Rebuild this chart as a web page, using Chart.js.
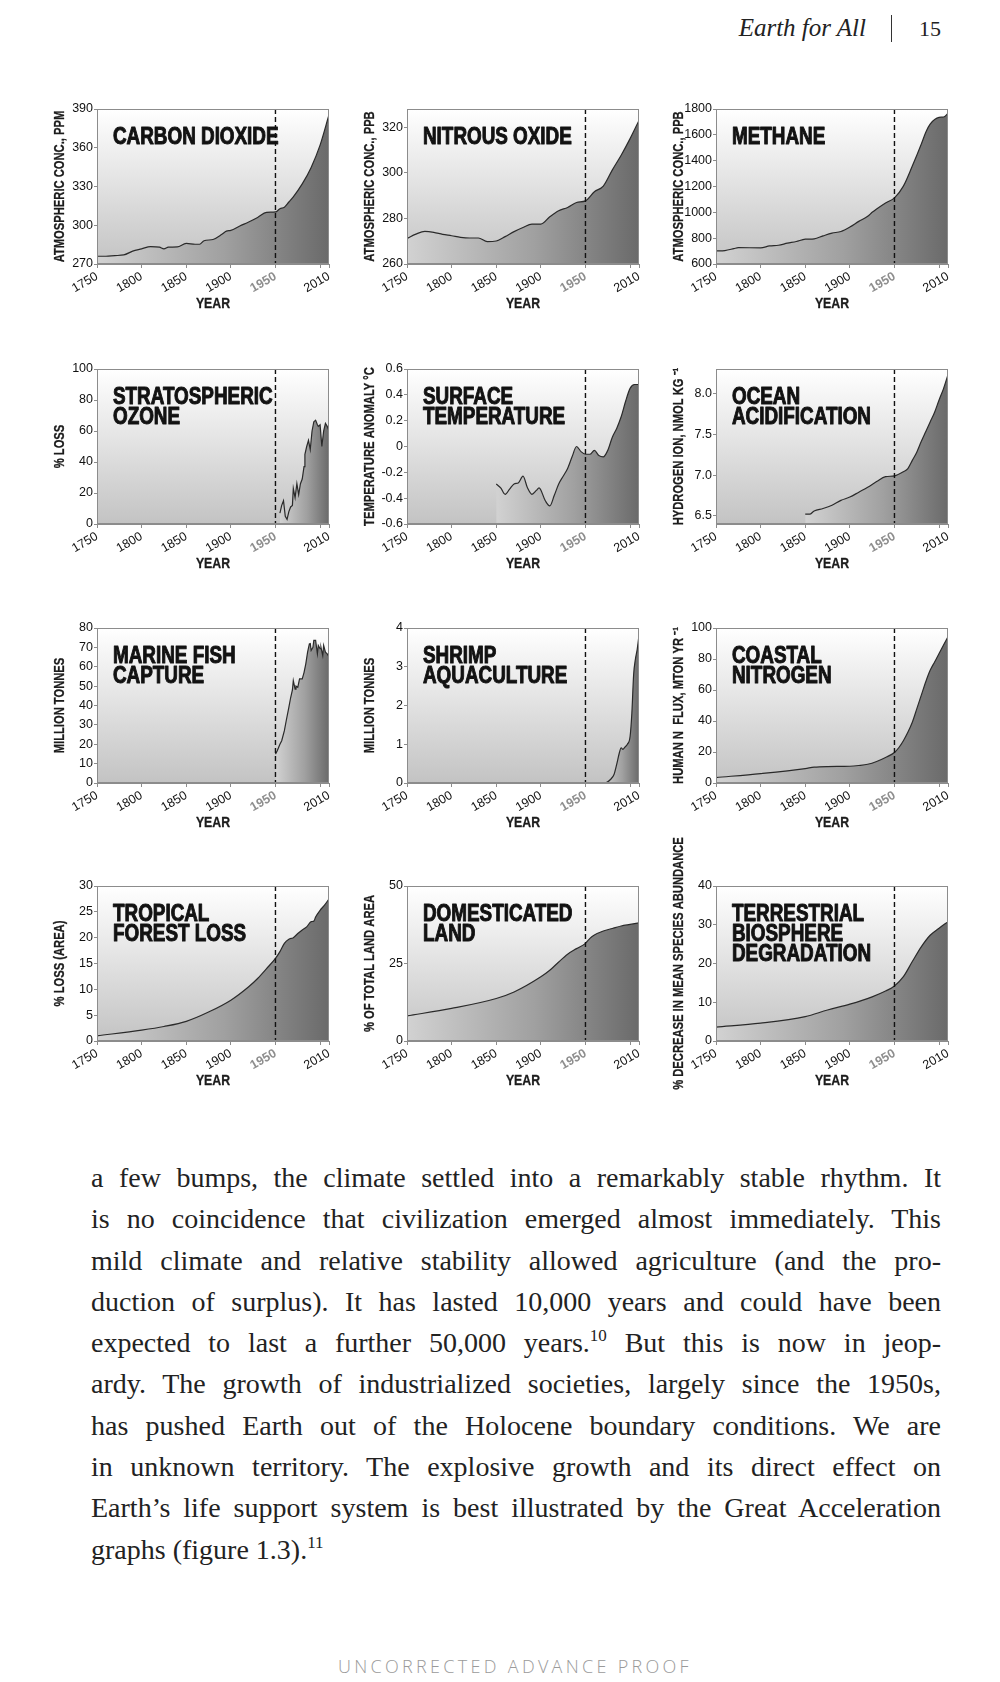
<!DOCTYPE html>
<html><head><meta charset="utf-8">
<script src="https://cdn.jsdelivr.net/npm/chart.js@4.4.1/dist/chart.umd.min.js"></script>
<style>
html,body{margin:0;padding:0;background:#fff;}
body{width:1000px;height:1682px;position:relative;overflow:hidden;}
.cv{position:absolute;}
#body{position:absolute;left:91px;top:1157px;width:850px;font-family:"Liberation Serif",serif;font-size:28px;line-height:41.3px;color:#222;}
#body div{text-align:justify;text-align-last:justify;white-space:nowrap;}
#body div.last{text-align-last:left;}
#body sup{font-size:17px;line-height:0;vertical-align:11px;}
.hd{position:absolute;font-family:"Liberation Serif",serif;color:#222;line-height:24px;}
#foot{position:absolute;left:515px;top:1654px;transform:translateX(-50%);font-family:"Open Sans",sans-serif;font-weight:300;font-size:18px;letter-spacing:3.3px;color:#9a9a9a;white-space:nowrap;line-height:24px;}
</style></head><body>
<span class="hd" style="right:134px;top:16px;font-style:italic;font-size:25px;">Earth for All</span>
<div style="position:absolute;left:891px;top:15px;width:1px;height:27px;background:#333;"></div>
<span class="hd" style="left:919px;top:17px;font-size:22px;">15</span>

<div id="body">
<div>a few bumps, the climate settled into a remarkably stable rhythm. It</div>
<div>is no coincidence that civilization emerged almost immediately. This</div>
<div>mild climate and relative stability allowed agriculture (and the pro-</div>
<div>duction of surplus). It has lasted 10,000 years and could have been</div>
<div>expected to last a further 50,000 years.<sup>10</sup> But this is now in jeop-</div>
<div>ardy. The growth of industrialized societies, largely since the 1950s,</div>
<div>has pushed Earth out of the Holocene boundary conditions. We are</div>
<div>in unknown territory. The explosive growth and its direct effect on</div>
<div>Earth’s life support system is best illustrated by the Great Acceleration</div>
<div class="last">graphs (figure 1.3).<sup>11</sup></div>
</div>
<div id="foot">UNCORRECTED ADVANCE PROOF</div>

<script>
// ---------- DATA ----------
const xTickYears = [1750, 1800, 1850, 1900, 1950, 2000, 2010];
const xTickLabels = ['1750', '1800', '1850', '1900', '1950', '', '2010'];

const co2Years = [1750,1760,1770,1780,1790,1800,1810,1820,1825,1830,1840,1850,1860,1865,1870,1880,1890,1895,1900,1910,1920,1930,1940,1950,1955,1960,1965,1970,1980,1990,2000,2010];
const co2Values = [276,276,276.5,277,280,281.7,283.5,283,281.7,283,283.2,286,285.3,285.3,288,289,293,295.5,296,299.4,302.5,306,310,310.3,312.8,314,318,322,332,344.8,362,385.6];
const co2Ticks = [270, 300, 330, 360, 390];
const co2TickLabels = ['270', '300', '330', '360', '390'];

const n2oYears = [1750,1760,1770,1780,1790,1800,1810,1820,1830,1840,1850,1860,1870,1880,1890,1900,1910,1920,1930,1940,1950,1960,1970,1980,1990,2000,2010];
const n2oValues = [271.2,273.1,274.3,273.9,273,272.4,271.7,271.4,271.4,269.8,270.1,272,274.2,276,277.5,277.5,280.7,283.4,284.8,287,287.7,291.7,294.2,301.2,307.7,315,323];
const n2oTicks = [260, 280, 300, 320];
const n2oTickLabels = ['260', '280', '300', '320'];

const ch4Years = [1750,1760,1770,1775,1800,1810,1820,1830,1840,1850,1860,1870,1880,1890,1900,1910,1920,1925,1930,1940,1950,1960,1970,1980,1985,1990,2000,2005,2010];
const ch4Values = [701,704,719,727,725,740,745,761,774,792,795,818,839,852,886,930,969,1000,1026,1073,1112,1203,1358,1527,1618,1683,1735,1738,1766];
const ch4Ticks = [600, 800, 1000, 1200, 1400, 1600, 1800];
const ch4TickLabels = ['600', '800', '1000', '1200', '1400', '1600', '1800'];

const ozoneYears = [1955,1957,1959,1961,1963,1965,1967,1969,1970,1972,1974,1976,1978,1980,1982,1983,1985,1987,1989,1991,1993,1995,1997,1998,2000,2002,2004,2006,2008,2010];
const ozoneValues = [7,12,15,5,3,8,11,12,23,17,26,19,26,29,37,45,50,54,48,60,66,67,64,63,64,50,60,65,63,60];
const ozoneTicks = [0, 20, 40, 60, 80, 100];
const ozoneTickLabels = ['0', '20', '40', '60', '80', '100'];

const tempYears = [1850,1855,1860,1865,1870,1875,1880,1885,1890,1895,1898,1905,1910,1915,1920,1925,1930,1935,1940,1945,1950,1955,1960,1965,1970,1975,1980,1985,1990,1995,2000,2005,2010];
const tempValues = [-0.29,-0.32,-0.37,-0.33,-0.29,-0.28,-0.23,-0.32,-0.37,-0.34,-0.32,-0.42,-0.46,-0.38,-0.29,-0.23,-0.17,-0.08,0.0,-0.04,-0.06,-0.06,-0.03,-0.07,-0.08,-0.03,0.07,0.14,0.23,0.35,0.45,0.48,0.48];
const tempTicks = [-0.6, -0.4, -0.2, 0, 0.2, 0.4, 0.6];
const tempTickLabels = ['-0.6', '-0.4', '-0.2', '0', '0.2', '0.4', '0.6'];

const oceanYears = [1850,1855,1860,1870,1880,1890,1900,1910,1920,1930,1940,1950,1960,1965,1970,1975,1980,1985,1990,1995,2000,2005,2010];
const oceanValues = [6.52,6.52,6.56,6.59,6.63,6.69,6.73,6.79,6.85,6.92,6.98,6.99,7.04,7.08,7.18,7.28,7.41,7.53,7.65,7.77,7.92,8.06,8.23];
const oceanTicks = [6.5, 7.0, 7.5, 8.0];
const oceanTickLabels = ['6.5', '7.0', '7.5', '8.0'];

const fishYears = [1950,1952,1955,1957,1960,1962,1965,1967,1969,1970,1972,1973,1975,1977,1980,1982,1984,1986,1988,1989,1990,1992,1993,1995,1997,1998,2000,2001,2003,2004,2006,2008,2010];
const fishValues = [14.9,16.6,20,21.8,27,32,39,44,48,52.8,48.5,50,49.4,53.7,53.7,57,61.5,67.5,71.8,72,68.4,70,73.6,73.6,66.7,71,69.3,70,65.8,71,67.5,66.7,65];
const fishTicks = [0, 10, 20, 30, 40, 50, 60, 70, 80];
const fishTickLabels = ['0', '10', '20', '30', '40', '50', '60', '70', '80'];

const shrimpYears = [1969,1974,1978,1982,1985,1988,1990,1992,1994,1997,2000,2002,2004,2006,2008,2010];
const shrimpValues = [0,0.02,0.09,0.22,0.48,0.78,0.91,0.87,0.92,1.0,1.2,1.8,2.8,3.2,3.45,3.81];
const shrimpTicks = [0, 1, 2, 3, 4];
const shrimpTickLabels = ['0', '1', '2', '3', '4'];

const nitroYears = [1750,1800,1850,1860,1875,1900,1910,1920,1930,1940,1950,1955,1960,1965,1970,1975,1980,1985,1990,1995,2000,2005,2010];
const nitroValues = [3.5,6.1,9.3,10.2,10.6,10.8,11.3,12.1,13.9,16.5,19.7,22.9,27.3,32.7,39.2,47.8,56.5,65.2,72.7,78.1,83.5,89,94.4];
const nitroTicks = [0, 20, 40, 60, 80, 100];
const nitroTickLabels = ['0', '20', '40', '60', '80', '100'];

const forestYears = [1750,1800,1825,1850,1875,1900,1920,1930,1940,1950,1955,1960,1965,1970,1975,1980,1985,1990,1993,1995,2000,2005,2010];
const forestValues = [1.0,2.1,2.8,3.8,5.6,7.9,10.5,12.1,14,16,17.3,18.9,19.7,20,20.8,21.5,22.1,23.1,23.2,24,25.3,26.3,27.5];
const forestTicks = [0, 5, 10, 15, 20, 25, 30];
const forestTickLabels = ['0', '5', '10', '15', '20', '25', '30'];

const landYears = [1750,1800,1850,1870,1900,1910,1920,1930,1940,1950,1955,1960,1970,1980,1990,2000,2010];
const landValues = [8.1,10.5,13.7,15.8,20.7,22.8,25.5,28,29.8,31.5,33.1,34.2,35.5,36.3,37.1,37.6,38.1];
const landTicks = [0, 25, 50];
const landTickLabels = ['0', '25', '50'];

const terrYears = [1750,1800,1850,1875,1900,1925,1940,1950,1960,1970,1980,1990,2000,2010];
const terrValues = [3.6,4.6,6.3,8.0,9.5,11.4,12.9,14.2,16.6,20.5,24.3,27.3,29.1,30.8];
const terrTicks = [0, 10, 20, 30, 40];
const terrTickLabels = ['0', '10', '20', '30', '40'];

const panels = [
  {title:['CARBON DIOXIDE'], yTitle:'ATMOSPHERIC CONC., PPM', years:co2Years, values:co2Values, yMin:270, yMax:390, ticks:co2Ticks, labels:co2TickLabels, smooth:true},
  {title:['NITROUS OXIDE'], yTitle:'ATMOSPHERIC CONC., PPB', years:n2oYears, values:n2oValues, yMin:260, yMax:328, ticks:n2oTicks, labels:n2oTickLabels, smooth:true},
  {title:['METHANE'], yTitle:'ATMOSPHERIC CONC., PPB', years:ch4Years, values:ch4Values, yMin:600, yMax:1800, ticks:ch4Ticks, labels:ch4TickLabels, smooth:true},
  {title:['STRATOSPHERIC','OZONE'], yTitle:'% LOSS', years:ozoneYears, values:ozoneValues, yMin:0, yMax:100, ticks:ozoneTicks, labels:ozoneTickLabels, smooth:false},
  {title:['SURFACE','TEMPERATURE'], yTitle:'TEMPERATURE ANOMALY °C', years:tempYears, values:tempValues, yMin:-0.6, yMax:0.6, ticks:tempTicks, labels:tempTickLabels, smooth:true},
  {title:['OCEAN','ACIDIFICATION'], yTitle:'HYDROGEN ION, NMOL KG \u207B\u00B9', years:oceanYears, values:oceanValues, yMin:6.4, yMax:8.3, ticks:oceanTicks, labels:oceanTickLabels, smooth:true},
  {title:['MARINE FISH','CAPTURE'], yTitle:'MILLION TONNES', years:fishYears, values:fishValues, yMin:0, yMax:80, ticks:fishTicks, labels:fishTickLabels, smooth:false},
  {title:['SHRIMP','AQUACULTURE'], yTitle:'MILLION TONNES', years:shrimpYears, values:shrimpValues, yMin:0, yMax:4, ticks:shrimpTicks, labels:shrimpTickLabels, smooth:true},
  {title:['COASTAL','NITROGEN'], yTitle:'HUMAN N  FLUX, MTON YR \u207B\u00B9', years:nitroYears, values:nitroValues, yMin:0, yMax:100, ticks:nitroTicks, labels:nitroTickLabels, smooth:true},
  {title:['TROPICAL','FOREST LOSS'], yTitle:'% LOSS (AREA)', years:forestYears, values:forestValues, yMin:0, yMax:30, ticks:forestTicks, labels:forestTickLabels, smooth:true},
  {title:['DOMESTICATED','LAND'], yTitle:'% OF TOTAL LAND AREA', years:landYears, values:landValues, yMin:0, yMax:50, ticks:landTicks, labels:landTickLabels, smooth:true},
  {title:['TERRESTRIAL','BIOSPHERE','DEGRADATION'], yTitle:'% DECREASE IN MEAN SPECIES ABUNDANCE', years:terrYears, values:terrValues, yMin:0, yMax:40, ticks:terrTicks, labels:terrTickLabels, smooth:true}
];

// ---------- LAYOUT ----------
const W = 232, H = 155;
const colLeft = [97, 407, 716];
const rowTop = [109, 369, 628, 886];
const PL = 80, PT = 70, PR = 22, PB = 75;
const SANS = '"Liberation Sans", Arial, sans-serif';
const NX = 0.82; // horizontal compression to imitate a condensed face

function narrowText(ctx, text, x, y, size, opts) {
  ctx.save();
  ctx.translate(x, y);
  if (opts.rotate) ctx.rotate(opts.rotate);
  ctx.scale(opts.sx || NX, 1);
  ctx.font = 'bold ' + size + 'px ' + SANS;
  ctx.textAlign = opts.align || 'left';
  ctx.textBaseline = opts.baseline || 'alphabetic';
  ctx.fillStyle = opts.color || '#111';
  ctx.fillText(text, 0, 0);
  if (opts.heavy) {
    ctx.strokeStyle = opts.color || '#111';
    ctx.lineWidth = opts.heavy;
    ctx.lineJoin = 'round';
    ctx.strokeText(text, 0, 0);
  }
  ctx.restore();
}

function makeDecor(cfg) {
  return {
    id: 'decor',
    beforeDraw(chart) {
      const {ctx, chartArea: a} = chart;
      const g = ctx.createLinearGradient(0, a.top, 0, a.bottom);
      g.addColorStop(0, '#ffffff');
      g.addColorStop(1, '#c3c3c3');
      ctx.save();
      ctx.fillStyle = g;
      ctx.fillRect(a.left, a.top, a.right - a.left, a.bottom - a.top);
      ctx.restore();
    },
    afterDatasetsDraw(chart) {
      const {ctx, chartArea: a} = chart;
      cfg.title.forEach((t, i) => narrowText(ctx, t, a.left + 16, a.top + 35 + i * 20, 23, {color: '#121212', heavy: 1.0}));
      ctx.save();
      const x = chart.scales.x.getPixelForValue(1950);
      ctx.setLineDash([5, 3]);
      ctx.strokeStyle = '#111';
      ctx.lineWidth = 1.4;
      ctx.beginPath(); ctx.moveTo(x, a.top); ctx.lineTo(x, a.bottom); ctx.stroke();
      ctx.setLineDash([]);
      ctx.strokeStyle = '#8c8c8c';
      ctx.lineWidth = 1;
      ctx.strokeRect(a.left + 0.5, a.top + 0.5, a.right - a.left - 1, a.bottom - a.top - 1);
      ctx.restore();
      narrowText(ctx, cfg.yTitle, a.left - 37, (a.top + a.bottom) / 2, 14,
        {rotate: -Math.PI / 2, align: 'center', baseline: 'middle', color: '#1c1c1c', sx: 0.8, heavy: 0.3});
      narrowText(ctx, 'YEAR', (a.left + a.right) / 2, a.bottom + 40, 15,
        {align: 'center', baseline: 'middle', color: '#1c1c1c', heavy: 0.3});
    }
  };
}

panels.forEach((cfg, i) => {
  const col = i % 3, row = Math.floor(i / 3);
  const canvas = document.createElement('canvas');
  const cw = PL + W + PR, chh = PT + H + PB;
  canvas.width = cw; canvas.height = chh;
  canvas.style.width = cw + 'px'; canvas.style.height = chh + 'px';
  canvas.style.left = (colLeft[col] - PL) + 'px';
  canvas.style.top = (rowTop[row] - PT) + 'px';
  canvas.className = 'cv';
  document.body.appendChild(canvas);

  const pts = cfg.years.map((y, k) => ({x: y, y: cfg.values[k]}));
  new Chart(canvas, {
    type: 'line',
    data: {
      datasets: [{
        data: pts,
        borderColor: '#2a2a2a',
        borderWidth: 1.2,
        pointRadius: 0,
        tension: cfg.smooth ? 0.4 : 0,
        cubicInterpolationMode: cfg.smooth ? 'monotone' : 'default',
        fill: 'start',
        backgroundColor: (c) => {
          const ch = c.chart;
          if (!ch.chartArea) return '#aaaaaa';
          const xs = ch.scales.x;
          const x0 = xs.getPixelForValue(cfg.years[0]);
          const x1 = xs.getPixelForValue(cfg.years[cfg.years.length - 1]);
          const g = ch.ctx.createLinearGradient(x0, 0, x1, 0);
          g.addColorStop(0, '#d2d2d2');
          g.addColorStop(0.55, '#a0a0a0');
          g.addColorStop(1, '#6a6a6a');
          return g;
        }
      }]
    },
    options: {
      responsive: false,
      animation: false,
      events: [],
      layout: {padding: {left: 0, top: PT, right: PR, bottom: 0}},
      plugins: {legend: {display: false}, tooltip: {enabled: false}},
      scales: {
        x: {
          type: 'linear', min: 1750, max: 2010,
          afterBuildTicks: (s) => { s.ticks = xTickYears.map(v => ({value: v})); },
          afterFit: (s) => { s.height = PB; s.paddingLeft = 0; s.paddingRight = 0; },
          border: {display: true, color: '#8c8c8c', width: 1},
          grid: {display: true, drawOnChartArea: false, drawTicks: true, tickLength: 4, color: '#8c8c8c'},
          ticks: {
            autoSkip: false, minRotation: 30, maxRotation: 30, padding: 1,
            callback: (v, idx) => xTickLabels[idx],
            color: (c) => (c.tick && c.tick.value === 1950) ? '#8e8e8e' : '#111',
            font: (c) => ({family: SANS, size: 12.5, weight: (c.tick && c.tick.value === 1950) ? 'bold' : 'normal'})
          },
          title: {display: false}
        },
        y: {
          type: 'linear', min: cfg.yMin, max: cfg.yMax,
          afterBuildTicks: (s) => { s.ticks = cfg.ticks.map(v => ({value: v})); },
          afterFit: (s) => { s.width = PL; s.paddingTop = 0; s.paddingBottom = 0; },
          border: {display: true, color: '#8c8c8c', width: 1},
          grid: {display: true, drawOnChartArea: false, drawTicks: true, tickLength: 3, color: '#8c8c8c'},
          ticks: {
            padding: 1,
            callback: (v, idx) => cfg.labels[idx],
            color: '#111',
            font: {family: SANS, size: 12.5}
          }
        }
      }
    },
    plugins: [makeDecor(cfg)]
  });
});

// fit every justified body line into the 850px measure without wrapping
document.querySelectorAll('#body div').forEach(div => {
  const last = div.classList.contains('last');
  div.style.textAlignLast = 'left';
  const r = document.createRange();
  r.selectNodeContents(div);
  const w = r.getBoundingClientRect().width;
  const n = div.textContent.length;
  if (w > 846) div.style.letterSpacing = (-(w - 846) / n).toFixed(3) + 'px';
  div.style.textAlignLast = last ? 'left' : 'justify';
});
</script>
</body></html>
